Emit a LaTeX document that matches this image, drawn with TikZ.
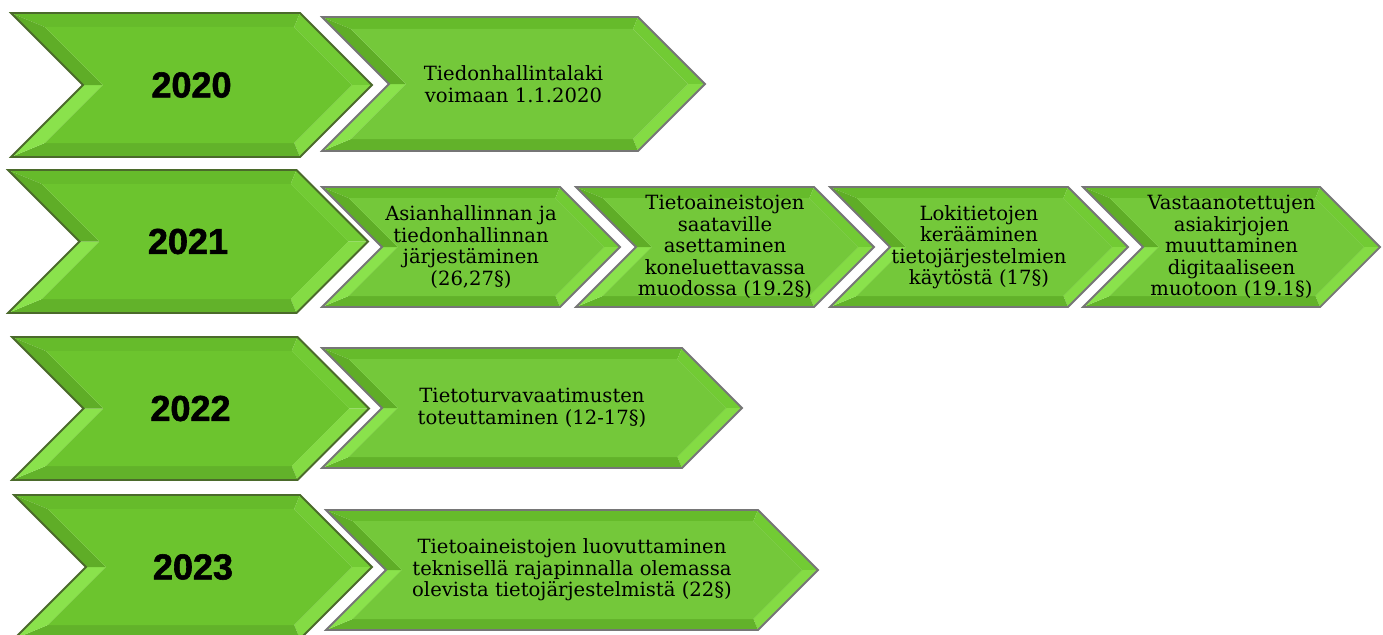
\documentclass[tikz,border=0pt]{standalone}
\usepackage{fontspec}
\setmainfont{DejaVu Serif}
\newfontfamily\yearfont[BoldFeatures={FakeBold=1.6}]{Liberation Sans}
\definecolor{gbase}{HTML}{6CC42E}
\definecolor{gtop}{HTML}{66BB2B}
\definecolor{gul}{HTML}{5FAD27}
\definecolor{gll}{HTML}{8AE24C}
\definecolor{gur}{HTML}{72CB34}
\definecolor{glr}{HTML}{84DB44}
\definecolor{gbot}{HTML}{62B22A}
\definecolor{sbase}{HTML}{74C83A}
\definecolor{bigline}{HTML}{4B6A2B}
\definecolor{smallline}{HTML}{767676}
\tikzset{
  yeartext/.style={font=\yearfont\bfseries\fontsize{36}{40}\selectfont, text=black, inner sep=0pt},
  itemtext/.style={font=\fontsize{19.6}{21.5}\selectfont, align=center, text=black, inner sep=0pt},
}
% #1 name, #2 x0, #3 top, #4 bottom, #5 tip x, #6 bevel, #7 base colour, #8 outline colour, #9 text style
\newcommand{\chev}[9]{%
  \pgfmathsetmacro\hh{(#4-#3)/2}%
  \pgfmathsetmacro\ym{(#3+#4)/2}%
  \pgfmathsetmacro\xn{#2+\hh}%
  \pgfmathsetmacro\xc{#5-\hh}%
  \pgfmathsetmacro\xm{(#2+#5)/2}%
  \pgfmathsetmacro\xai{#2+2.414*#6}%
  \pgfmathsetmacro\xbi{\xc-0.414*#6}%
  \pgfmathsetmacro\xti{#5-1.414*#6}%
  \pgfmathsetmacro\xni{\xn+1.414*#6}%
  \pgfmathsetmacro\yti{#3+#6}%
  \pgfmathsetmacro\ybi{#4-#6}%
  \coordinate (#1-A) at (#2,#3);
  \coordinate (#1-B) at (\xc,#3);
  \coordinate (#1-C) at (#5,\ym);
  \coordinate (#1-D) at (\xc,#4);
  \coordinate (#1-E) at (#2,#4);
  \coordinate (#1-F) at (\xn,\ym);
  \coordinate (#1-a) at (\xai,\yti);
  \coordinate (#1-b) at (\xbi,\yti);
  \coordinate (#1-c) at (\xti,\ym);
  \coordinate (#1-d) at (\xbi,\ybi);
  \coordinate (#1-e) at (\xai,\ybi);
  \coordinate (#1-f) at (\xni,\ym);
  \fill[gtop] (#1-A) -- (#1-B) -- (#1-b) -- (#1-a) -- cycle;
  \fill[gur] (#1-B) -- (#1-C) -- (#1-c) -- (#1-b) -- cycle;
  \fill[glr] (#1-C) -- (#1-D) -- (#1-d) -- (#1-c) -- cycle;
  \fill[gbot] (#1-D) -- (#1-E) -- (#1-e) -- (#1-d) -- cycle;
  \fill[gll] (#1-E) -- (#1-F) -- (#1-f) -- (#1-e) -- cycle;
  \fill[gul] (#1-F) -- (#1-A) -- (#1-a) -- (#1-f) -- cycle;
  \fill[#7] (#1-a) -- (#1-b) -- (#1-c) -- (#1-d) -- (#1-e) -- (#1-f) -- cycle;
  \draw[#8, line width=1.8pt, line join=miter] (#1-A) -- (#1-B) -- (#1-C) -- (#1-D) -- (#1-E) -- (#1-F) -- cycle;
  \node[#9] (#1) at (\xm,\ym)
}
\begin{document}
\begin{tikzpicture}[x=1pt,y=-1pt]
\useasboundingbox (0,0) rectangle (1383,634);
\clip (0,0) rectangle (1383,634);
% 2020
\chev{y20}{11}{13}{157}{372}{14}{gbase}{bigline}{yeartext} {2020};
\chev{t20}{322}{17}{151}{705}{12}{sbase}{smallline}{itemtext} {Tiedonhallintalaki\\voimaan 1.1.2020};
% 2021
\chev{y21}{8}{170}{313}{368}{14}{gbase}{bigline}{yeartext} {2021};
\chev{t21a}{322}{187}{307}{620}{11}{sbase}{smallline}{itemtext} {Asianhallinnan ja\\tiedonhallinnan\\järjestäminen\\(26,27§)};
\chev{t21b}{576}{187}{307}{874}{11}{sbase}{smallline}{itemtext} {Tietoaineistojen\\saataville\\asettaminen\\koneluettavassa\\muodossa (19.2§)};
\chev{t21c}{830}{187}{307}{1128}{11}{sbase}{smallline}{itemtext} {Lokitietojen\\kerääminen\\tietojärjestelmien\\käytöstä (17§)};
\chev{t21d}{1083}{187}{307}{1380}{11}{sbase}{smallline}{itemtext} {Vastaanotettujen\\asiakirjojen\\muuttaminen\\digitaaliseen\\muotoon (19.1§)};
% 2022
\chev{y22}{12}{337}{480}{369}{14}{gbase}{bigline}{yeartext} {2022};
\chev{t22}{322}{348}{468}{742}{11}{sbase}{smallline}{itemtext} {Tietoturvavaatimusten\\toteuttaminen (12-17§)};
% 2023
\chev{y23}{14}{495}{639}{372}{14}{gbase}{bigline}{yeartext} {2023};
\chev{t23}{326}{510}{630}{818}{11}{sbase}{smallline}{itemtext} {Tietoaineistojen luovuttaminen\\teknisellä rajapinnalla olemassa\\olevista tietojärjestelmistä (22§)};
\end{tikzpicture}
\end{document}
